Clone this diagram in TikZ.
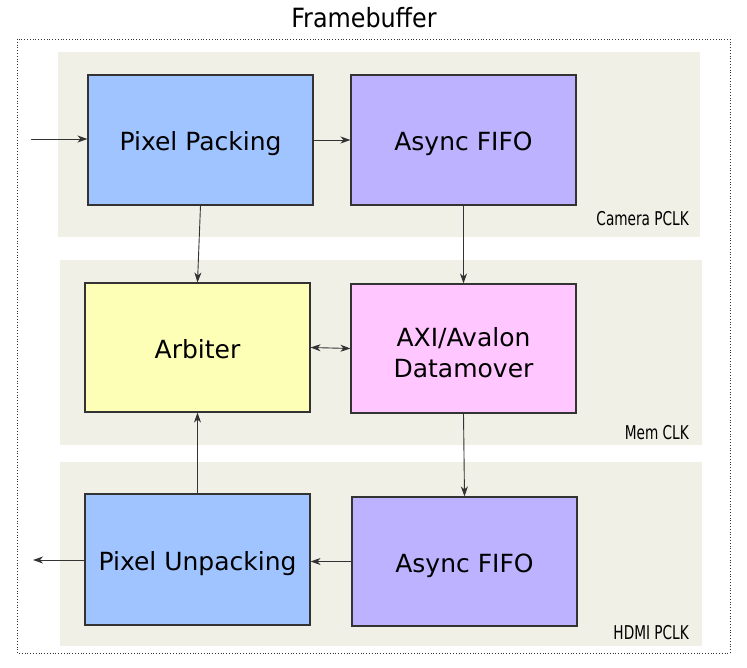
\documentclass[tikz,border=0pt]{standalone}
\usepackage{fontspec}
\setmainfont{DejaVu Sans}
\newfontfamily\condfont{DejaVu Sans Condensed}
\usetikzlibrary{arrows.meta,calc}
\definecolor{bandc}{HTML}{F1F0E6}
\definecolor{bluec}{HTML}{A0C4FF}
\definecolor{purplec}{HTML}{BDB2FF}
\definecolor{yellowc}{HTML}{FDFFB6}
\definecolor{pinkc}{HTML}{FFC6FF}
\definecolor{linec}{HTML}{333333}
\tikzset{
  blockbox/.style={draw=linec, line width=1.1pt, minimum width=225pt, minimum height=130pt, inner sep=0pt, text height=22pt, text depth=0pt, font=\fontsize{25}{31}\selectfont, text=black},
  band/.style={fill=bandc, draw=none},
  conn/.style={draw=linec, line width=0.9pt, -{Stealth[length=10pt,width=7pt,inset=3pt]}},
  biconn/.style={draw=linec, line width=0.9pt, {Stealth[length=10pt,width=7pt,inset=3pt]}-{Stealth[length=10pt,width=7pt,inset=3pt]}},
  clklabel/.style={anchor=base east, inner sep=0pt, font=\condfont\fontsize{19}{22}\selectfont, xscale=0.8, text=black},
}
\begin{document}
\begin{tikzpicture}[x=1pt,y=-1pt]
\useasboundingbox (0,0) rectangle (747,668);
% title and frame
\node[anchor=base, inner sep=0pt, font=\condfont\fontsize{26.5}{30}\selectfont] (title) at (364,28) {Framebuffer};
\draw[linec, line width=0.8pt, dotted] (17,39) rectangle (730,653);
% clock bands
\fill[band] (58,52) rectangle (700,237);
\fill[band] (60,260) rectangle (702,445);
\fill[band] (60,462) rectangle (702,646);
\node[clklabel] (lab1) at (689,226) {Camera PCLK};
\node[clklabel] (lab2) at (689,439) {Mem CLK};
\node[clklabel] (lab3) at (689,639) {HDMI PCLK};
% blocks
\node[blockbox, fill=bluec] (PP) at (200.5,140) {Pixel Packing};
\node[blockbox, fill=purplec] (F1) at (463.5,140) {Async FIFO};
\node[blockbox, fill=yellowc, minimum height=129pt] (Arb) at (197.5,347.5) {Arbiter};
\node[blockbox, fill=pinkc, minimum height=129pt, text height=57pt] (DM) at (463.5,348.5) {\begin{tabular}[b]{@{}c@{}}AXI/Avalon\\Datamover\end{tabular}};
\node[blockbox, fill=bluec, minimum height=131pt] (PU) at (197.5,559.5) {Pixel Unpacking};
\node[blockbox, fill=purplec, minimum height=129pt] (F2) at (464.5,561.5) {Async FIFO};
% connectors
\coordinate (in1) at (31,139);
\coordinate (out1) at (33,560);
\draw[conn] (in1) -- (in1 -| PP.west);
\draw[conn] (PP.east) -- (F1.west);
\draw[conn] (PP.south) -- (Arb.north);
\draw[conn] (F1.south) -- (DM.north);
\draw[biconn] (Arb.east) -- (DM.west);
\draw[conn] (DM.south) -- (F2.north);
\draw[conn] (F2.west) -- (F2.west -| PU.east);
\draw[conn] (out1 -| PU.west) -- (out1);
\draw[conn] (PU.north) -- (Arb.south);
\end{tikzpicture}
\end{document}
